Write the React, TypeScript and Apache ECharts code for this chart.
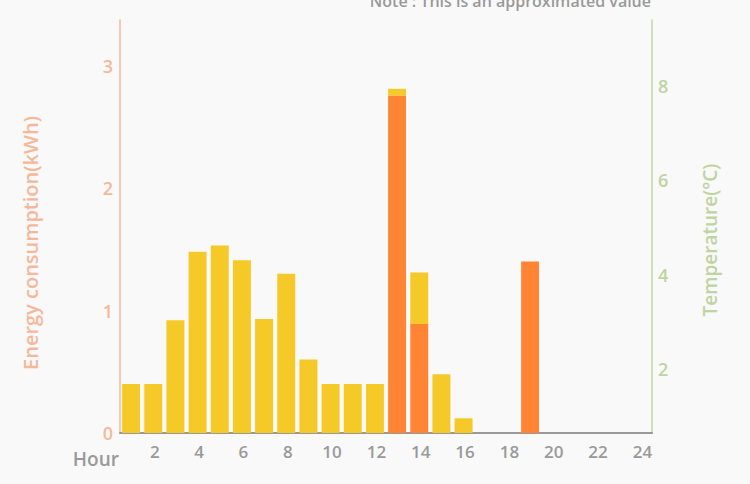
import React, { useEffect, useRef } from "react";
import * as echarts from "echarts";

const hours = ["1","2","3","4","5","6","7","8","9","10","11","12","13","14","15","16","17","18","19","20","21","22","23","24"];
const baseEnergy = [0, 0, 0, 0, 0, 0, 0, 0, 0, 0, 0, 0, 2.755, 0.89, 0, 0, 0, 0, 1.4, 0, 0, 0, 0, 0];
const extraEnergy = [0.4, 0.4, 0.92, 1.48, 1.53, 1.41, 0.93, 1.3, 0.6, 0.4, 0.4, 0.4, 0.055, 0.42, 0.48, 0.12, 0, 0, 0, 0, 0, 0, 0, 0];
const temperature: number[] = [];
const energyMax = 3.372;
const tempMin = 0.64;
const tempMax = 9.4;

export default function App() {
  const ref = useRef<HTMLDivElement>(null);
  useEffect(() => {
    document.body.style.margin = "0";
    const chart = echarts.init(ref.current!, null, { renderer: "svg" });
    const font = "'Open Sans', 'Noto Sans', sans-serif";
    chart.setOption({
      animation: false,
      backgroundColor: "#f9f9f9",
      textStyle: { fontFamily: font, fontWeight: 600 },
      grid: { left: 120, right: 98, top: 20, bottom: 51 },
      xAxis: {
        type: "category",
        data: hours,
        axisLine: { lineStyle: { color: "#999999", width: 2 } },
        axisTick: { show: false },
        axisLabel: {
          interval: (i: number) => i % 2 === 1,
          color: "#999999",
          fontSize: 17,
          fontWeight: 600,
          fontFamily: font,
          margin: 10,
          padding: [0, 0, 0, 3],
        },
      },
      yAxis: [
        {
          type: "value",
          min: 0,
          max: energyMax,
          interval: 1,
          splitLine: { show: false },
          axisTick: { show: false },
          axisLine: { show: true, lineStyle: { color: "#f3b99b", width: 1.5 } },
          axisLabel: { color: "#f5b899", fontSize: 18, fontWeight: 600, fontFamily: font, margin: 7, showMaxLabel: false },
        },
        {
          type: "value",
          min: tempMin,
          max: tempMax,
          splitLine: { show: false },
          axisTick: { show: false },
          axisLine: { show: true, lineStyle: { color: "#c2d6a4", width: 1.5 } },
          axisLabel: { color: "#bfd4a0", fontSize: 18, fontWeight: 600, fontFamily: font, margin: 6, showMinLabel: false, showMaxLabel: false },
        },
      ],
      series: [
        {
          type: "bar",
          stack: "e",
          data: baseEnergy,
          barCategoryGap: "19%",
          itemStyle: { color: "#ff8433" },
        },
        {
          type: "bar",
          stack: "e",
          data: extraEnergy,
          barCategoryGap: "19%",
          itemStyle: { color: "#f5c927" },
        },
        {
          type: "line",
          yAxisIndex: 1,
          data: temperature,
        },
      ],
      graphic: [
        {
          type: "text",
          x: 30,
          y: 243,
          rotation: Math.PI / 2,
          style: {
            text: "Energy consumption(kWh)",
            fill: "#f5b899",
            fontSize: 20,
            fontWeight: 600,
            fontFamily: font,
            textAlign: "center",
            textVerticalAlign: "middle",
          },
        },
        {
          type: "text",
          x: 710,
          y: 240,
          rotation: Math.PI / 2,
          style: {
            text: "Temperature(°C)",
            fill: "#bfd4a0",
            fontSize: 19,
            fontWeight: 600,
            fontFamily: font,
            textAlign: "center",
            textVerticalAlign: "middle",
          },
        },
        {
          type: "text",
          x: 119,
          y: 459,
          style: {
            text: "Hour",
            fill: "#999999",
            fontSize: 19,
            fontWeight: 600,
            fontFamily: font,
            textAlign: "right",
            textVerticalAlign: "middle",
          },
        },
        {
          type: "text",
          x: 651,
          y: 1,
          style: {
            text: "Note : This is an approximated value",
            fill: "#999999",
            fontSize: 16,
            fontWeight: 600,
            fontFamily: font,
            textAlign: "right",
            textVerticalAlign: "middle",
          },
        },
      ],
    });
    return () => chart.dispose();
  }, []);
  return <div ref={ref} style={{ width: 750, height: 484 }} />;
}
